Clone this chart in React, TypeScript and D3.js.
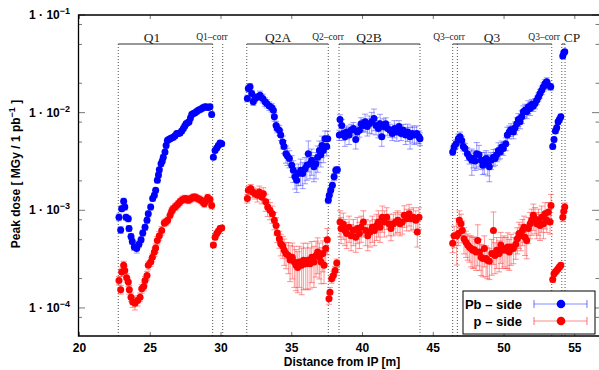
import React from 'react'
import * as d3 from 'd3'

type Pt = [number, number, number] // distance [m], dose, relative error

// Pb-side (blue)
const pbQ1: Pt[] = [
  [22.79, 8.5e-4, 0.08], [22.91, 6.3e-4, 0.08], [22.98, 1.04e-3, 0.07], [23.12, 1.24e-3, 0.07], [23.2, 1.08e-3, 0.07],
  [23.29, 8.5e-4, 0.07], [23.45, 8.2e-4, 0.07], [23.5, 6.5e-4, 0.07], [23.64, 5.4e-4, 0.07], [23.73, 4.8e-4, 0.07],
  [23.87, 4.2e-4, 0.08], [24.04, 4.05e-4, 0.1], [24.2, 4.5e-4, 0.08], [24.35, 5.0e-4, 0.07], [24.47, 5.85e-4, 0.07],
  [24.63, 6.7e-4, 0.07], [24.77, 7.9e-4, 0.07], [24.86, 9.2e-4, 0.07], [25.03, 1.08e-3, 0.07], [25.17, 1.32e-3, 0.06],
  [25.29, 1.43e-3, 0.06], [25.38, 1.6e-3, 0.06], [25.5, 2.03e-3, 0.06], [25.58, 2.3e-3, 0.06], [25.64, 2.6e-3, 0.06],
  [25.76, 3.0e-3, 0.06], [25.85, 3.2e-3, 0.06], [25.92, 3.5e-3, 0.06], [26.04, 3.96e-3, 0.06], [26.12, 4.6e-3, 0.06],
  [26.21, 5.2e-3, 0.06], [26.3, 5.3e-3, 0.06], [26.4, 5.4e-3, 0.06], [26.5, 5.5e-3, 0.06], [26.63, 5.6e-3, 0.06],
  [26.75, 5.8e-3, 0.06], [26.87, 6.1e-3, 0.06], [26.98, 6.1e-3, 0.06], [27.1, 6.2e-3, 0.06], [27.22, 6.5e-3, 0.06],
  [27.34, 6.9e-3, 0.06], [27.44, 7.3e-3, 0.06], [27.53, 7.7e-3, 0.06], [27.64, 7.9e-3, 0.06], [27.74, 8.05e-3, 0.06],
  [27.84, 8.8e-3, 0.06], [27.93, 9.6e-3, 0.06], [28.05, 9.8e-3, 0.06], [28.16, 9.95e-3, 0.06], [28.28, 1.03e-2, 0.06],
  [28.4, 1.06e-2, 0.06], [28.52, 1.08e-2, 0.06], [28.64, 1.1e-2, 0.06], [28.75, 1.13e-2, 0.06], [28.87, 1.15e-2, 0.06],
  [28.98, 1.14e-2, 0.06], [29.1, 1.13e-2, 0.06], [29.22, 1.15e-2, 0.06], [29.34, 9.6e-3, 0.06],
]
const pbQ1corr: Pt[] = [
  [29.46, 3.5e-3, 0.05], [29.58, 4.1e-3, 0.05], [29.7, 4.35e-3, 0.05], [29.81, 4.6e-3, 0.05], [29.93, 4.9e-3, 0.05], [30.05, 4.8e-3, 0.05],
]
const pbQ2A: Pt[] = [
  [31.86, 1.4e-2, 0.08], [31.93, 1.77e-2, 0.08], [32.05, 1.84e-2, 0.08], [32.17, 1.57e-2, 0.08], [32.28, 1.29e-2, 0.08],
  [32.4, 1.4e-2, 0.08], [32.57, 1.45e-2, 0.08], [32.76, 1.51e-2, 0.1], [32.95, 1.4e-2, 0.1], [33.11, 1.29e-2, 0.1],
  [33.23, 1.24e-2, 0.1], [33.41, 1.17e-2, 0.1], [33.58, 1.13e-2, 0.1], [33.7, 1.06e-2, 0.1], [33.77, 9.1e-3, 0.1],
  [33.89, 7.4e-3, 0.1], [33.98, 6.9e-3, 0.1], [34.12, 6.6e-3, 0.12], [34.22, 5.9e-3, 0.12], [34.36, 5.0e-3, 0.15],
  [34.45, 4.5e-3, 0.15], [34.59, 3.8e-3, 0.2], [34.69, 3.6e-3, 0.2], [34.83, 3.4e-3, 0.2], [35.0, 2.9e-3, 0.25],
  [35.11, 2.57e-3, 0.25], [35.23, 2.2e-3, 0.25], [35.35, 2.03e-3, 0.25], [35.46, 2.38e-3, 0.25], [35.63, 2.57e-3, 0.3],
  [35.77, 2.38e-3, 0.3], [35.94, 2.67e-3, 0.3], [36.06, 2.9e-3, 0.3], [36.17, 3.8e-3, 0.35], [36.29, 3.0e-3, 0.3],
  [36.41, 3.26e-3, 0.3], [36.57, 2.8e-3, 0.3], [36.71, 3.0e-3, 0.3], [36.83, 3.5e-3, 0.3], [36.95, 4.1e-3, 0.25],
  [37.05, 3.7e-3, 0.25], [37.14, 4.6e-3, 0.25], [37.23, 4.1e-3, 0.25], [37.35, 5.4e-3, 0.2], [37.47, 4.5e-3, 0.2],
  [37.54, 5.4e-3, 0.2],
]
const pbQ2corr: Pt[] = [
  [37.58, 1.27e-3, 0.08], [37.65, 1.43e-3, 0.08], [37.75, 1.6e-3, 0.08], [37.87, 1.8e-3, 0.08], [37.99, 2.2e-3, 0.08],
  [38.11, 2.57e-3, 0.08], [38.22, 2.6e-3, 0.08],
]
const pbQ2B: Pt[] = [
  [38.36, 5.9e-3, 0.12], [38.41, 8.5e-3, 0.12], [38.53, 7.4e-3, 0.15], [38.64, 6.1e-3, 0.15], [38.76, 5.65e-3, 0.2],
  [38.88, 6.35e-3, 0.15], [39.05, 5.9e-3, 0.2], [39.19, 6.6e-3, 0.15], [39.35, 6.9e-3, 0.15], [39.52, 5.3e-3, 0.2],
  [39.63, 6.35e-3, 0.15], [39.78, 6.6e-3, 0.15], [39.9, 7.7e-3, 0.15], [40.06, 7.4e-3, 0.15], [40.18, 8.05e-3, 0.2],
  [40.34, 7.2e-3, 0.2], [40.48, 7.7e-3, 0.2], [40.65, 8.05e-3, 0.25], [40.81, 8.7e-3, 0.25], [40.95, 7.4e-3, 0.2],
  [41.12, 6.9e-3, 0.2], [41.24, 7.7e-3, 0.25], [41.36, 5.65e-3, 0.2], [41.47, 7.2e-3, 0.2], [41.64, 7.7e-3, 0.15],
  [41.78, 6.9e-3, 0.15], [41.94, 6.6e-3, 0.15], [42.11, 6.1e-3, 0.15], [42.25, 6.9e-3, 0.2], [42.42, 6.35e-3, 0.2],
  [42.58, 7.2e-3, 0.15], [42.72, 6.1e-3, 0.15], [42.88, 6.6e-3, 0.15], [43.05, 5.9e-3, 0.2], [43.19, 6.35e-3, 0.2],
  [43.36, 5.65e-3, 0.25], [43.52, 6.1e-3, 0.2], [43.66, 5.9e-3, 0.2], [43.83, 6.1e-3, 0.2], [43.99, 5.65e-3, 0.15],
  [44.06, 5.4e-3, 0.15],
]
const pbQ3: Pt[] = [
  [46.37, 3.96e-3, 0.08], [46.47, 4.45e-3, 0.08], [46.61, 4.8e-3, 0.1], [46.77, 5.4e-3, 0.12], [46.89, 5.65e-3, 0.12],
  [47.01, 5.2e-3, 0.1], [47.12, 4.5e-3, 0.1], [47.24, 4.3e-3, 0.12], [47.41, 3.8e-3, 0.15], [47.55, 3.5e-3, 0.15],
  [47.72, 3.26e-3, 0.3], [47.83, 3.4e-3, 0.2], [47.95, 3.2e-3, 0.2], [48.07, 3.8e-3, 0.3], [48.23, 3.7e-3, 0.25],
  [48.38, 3.26e-3, 0.2], [48.5, 2.9e-3, 0.2], [48.61, 3.13e-3, 0.25], [48.73, 3.4e-3, 0.2], [48.85, 3.0e-3, 0.25],
  [48.96, 2.8e-3, 0.3], [49.08, 3.26e-3, 0.2], [49.25, 3.5e-3, 0.2], [49.36, 3.4e-3, 0.15], [49.48, 3.7e-3, 0.15],
  [49.6, 4.1e-3, 0.2], [49.72, 3.96e-3, 0.15], [49.84, 4.45e-3, 0.15], [49.95, 4.3e-3, 0.15], [50.12, 4.8e-3, 0.15],
  [50.23, 5.9e-3, 0.2], [50.37, 6.35e-3, 0.15], [50.49, 6.7e-3, 0.15], [50.66, 6.35e-3, 0.15], [50.78, 7.0e-3, 0.15],
  [50.9, 7.7e-3, 0.15], [51.01, 8.5e-3, 0.15], [51.13, 8.05e-3, 0.15], [51.25, 9.1e-3, 0.15], [51.36, 1.02e-2, 0.15],
  [51.48, 1.06e-2, 0.15], [51.6, 1.02e-2, 0.15], [51.72, 1.15e-2, 0.15], [51.84, 1.1e-2, 0.15], [51.96, 1.22e-2, 0.12],
  [52.07, 1.17e-2, 0.12], [52.19, 1.24e-2, 0.12], [52.31, 1.34e-2, 0.1], [52.43, 1.45e-2, 0.1], [52.54, 1.57e-2, 0.1],
  [52.66, 1.7e-2, 0.1], [52.78, 1.84e-2, 0.1], [52.9, 1.99e-2, 0.1], [53.02, 2.07e-2, 0.1], [53.13, 1.91e-2, 0.1],
  [53.3, 1.84e-2, 0.08],
]
const pbQ3corr: Pt[] = [
  [53.44, 4.5e-3, 0.06], [53.53, 5.3e-3, 0.06], [53.63, 6.5e-3, 0.06], [53.72, 7.0e-3, 0.06], [53.82, 8.05e-3, 0.06],
  [53.91, 8.5e-3, 0.06], [54.01, 9.1e-3, 0.06],
]
const pbCP: Pt[] = [[54.15, 3.8e-2, 0.05], [54.22, 4.1e-2, 0.05], [54.29, 4.2e-2, 0.05]]

// p-side (red)
const pQ1: Pt[] = [
  [22.79, 1.91e-4, 0.1], [22.91, 1.54e-4, 0.1], [22.98, 2.33e-4, 0.1], [23.12, 2.73e-4, 0.1], [23.2, 2.42e-4, 0.1],
  [23.33, 2.04e-4, 0.1], [23.45, 1.84e-4, 0.1], [23.52, 1.54e-4, 0.1], [23.64, 1.29e-4, 0.1], [23.76, 1.15e-4, 0.12],
  [23.92, 1.12e-4, 0.15], [24.11, 1.19e-4, 0.12], [24.28, 1.29e-4, 0.1], [24.4, 1.57e-4, 0.1], [24.54, 1.66e-4, 0.1],
  [24.63, 1.91e-4, 0.1], [24.77, 2.15e-4, 0.1], [24.86, 2.73e-4, 0.1], [25.03, 2.95e-4, 0.1], [25.15, 3.3e-4, 0.1],
  [25.29, 3.73e-4, 0.1], [25.38, 4.1e-4, 0.1], [25.5, 4.9e-4, 0.1], [25.64, 5.5e-4, 0.1], [25.81, 6.2e-4, 0.1],
  [25.99, 7.4e-4, 0.08], [26.1, 7.6e-4, 0.08], [26.23, 7.9e-4, 0.08], [26.4, 8.9e-4, 0.08], [26.51, 9.8e-4, 0.08],
  [26.6, 1.03e-3, 0.08], [26.75, 1.08e-3, 0.08], [26.86, 1.12e-3, 0.08], [26.98, 1.17e-3, 0.08], [27.1, 1.22e-3, 0.08],
  [27.22, 1.27e-3, 0.08], [27.34, 1.3e-3, 0.08], [27.46, 1.32e-3, 0.08], [27.58, 1.3e-3, 0.08], [27.69, 1.27e-3, 0.08],
  [27.78, 1.3e-3, 0.08], [27.88, 1.32e-3, 0.08], [28.0, 1.35e-3, 0.08], [28.11, 1.37e-3, 0.08], [28.23, 1.35e-3, 0.08],
  [28.35, 1.32e-3, 0.08], [28.47, 1.3e-3, 0.08], [28.59, 1.27e-3, 0.08], [28.7, 1.22e-3, 0.08], [28.82, 1.17e-3, 0.08],
  [28.94, 1.25e-3, 0.08], [29.06, 1.35e-3, 0.08], [29.22, 1.29e-3, 0.08], [29.34, 1.12e-3, 0.08],
]
const pQ1corr: Pt[] = [
  [29.46, 4.4e-4, 0.06], [29.58, 5.3e-4, 0.06], [29.7, 5.8e-4, 0.06], [29.81, 6.1e-4, 0.06], [29.93, 6.5e-4, 0.06], [30.05, 6.6e-4, 0.06],
]
const pQ2A: Pt[] = [
  [31.86, 1.32e-3, 0.1], [31.93, 1.6e-3, 0.1], [32.1, 1.67e-3, 0.1], [32.24, 1.54e-3, 0.12], [32.4, 1.48e-3, 0.12],
  [32.57, 1.43e-3, 0.15], [32.71, 1.54e-3, 0.15], [32.88, 1.37e-3, 0.15], [32.99, 1.48e-3, 0.15], [33.16, 1.22e-3, 0.2],
  [33.3, 1.08e-3, 0.2], [33.46, 1.0e-3, 0.2], [33.63, 9.2e-4, 0.2], [33.77, 7.9e-4, 0.2], [33.89, 7.0e-4, 0.2],
  [33.98, 5.85e-4, 0.2], [34.12, 5.1e-4, 0.2], [34.22, 4.55e-4, 0.25], [34.36, 4.3e-4, 0.25], [34.47, 3.9e-4, 0.3],
  [34.59, 3.6e-4, 0.3], [34.76, 3.45e-4, 0.35], [34.88, 3.1e-4, 0.4], [35.04, 3.3e-4, 0.4], [35.18, 2.95e-4, 0.45],
  [35.3, 2.73e-4, 0.45], [35.42, 2.6e-4, 0.45], [35.53, 2.95e-4, 0.45], [35.7, 2.73e-4, 0.5], [35.82, 3.07e-4, 0.5],
  [35.99, 2.84e-4, 0.45], [36.13, 3.07e-4, 0.5], [36.29, 2.84e-4, 0.45], [36.41, 3.3e-4, 0.45], [36.57, 2.95e-4, 0.45],
  [36.71, 3.45e-4, 0.4], [36.83, 3.73e-4, 0.4], [36.95, 3.3e-4, 0.4], [37.07, 2.95e-4, 0.4], [37.19, 3.6e-4, 0.35],
  [37.28, 2.73e-4, 0.35], [37.4, 4.05e-4, 0.3], [37.51, 5.0e-4, 0.3],
]
const pQ2corr: Pt[] = [
  [37.63, 1.24e-4, 0.12], [37.7, 1.45e-4, 0.12], [37.82, 1.99e-4, 0.1], [37.94, 2.15e-4, 0.1], [38.06, 2.42e-4, 0.1], [38.18, 2.88e-4, 0.1],
]
const pQ2B: Pt[] = [
  [38.41, 7.6e-4, 0.3], [38.48, 6.5e-4, 0.3], [38.64, 7.2e-4, 0.3], [38.76, 6.2e-4, 0.3], [38.88, 5.8e-4, 0.3],
  [39.05, 6.7e-4, 0.3], [39.19, 5.5e-4, 0.3], [39.35, 6.2e-4, 0.3], [39.52, 5.3e-4, 0.3], [39.63, 6.5e-4, 0.3],
  [39.78, 5.8e-4, 0.3], [39.9, 6.7e-4, 0.3], [40.06, 7.6e-4, 0.3], [40.23, 6.2e-4, 0.3], [40.37, 5.5e-4, 0.3],
  [40.53, 6.0e-4, 0.3], [40.69, 6.7e-4, 0.3], [40.84, 6.2e-4, 0.3], [41.0, 7.0e-4, 0.3], [41.12, 7.6e-4, 0.3],
  [41.24, 6.7e-4, 0.3], [41.4, 8.5e-4, 0.3], [41.54, 7.6e-4, 0.3], [41.71, 8.5e-4, 0.25], [41.87, 7.3e-4, 0.25],
  [42.01, 6.5e-4, 0.25], [42.18, 7.3e-4, 0.25], [42.35, 7.6e-4, 0.25], [42.49, 7.9e-4, 0.25], [42.65, 7.3e-4, 0.25],
  [42.81, 7.6e-4, 0.25], [42.95, 8.9e-4, 0.25], [43.12, 8.2e-4, 0.25], [43.29, 9.2e-4, 0.25], [43.43, 8.2e-4, 0.25],
  [43.59, 8.5e-4, 0.25], [43.76, 7.9e-4, 0.25], [43.87, 6.0e-4, 0.3], [43.99, 8.5e-4, 0.25],
]
const pQ3: Pt[] = [
  [46.37, 4.6e-4, 0.2], [46.47, 5.5e-4, 0.25], [46.66, 5.5e-4, 0.5], [46.77, 5.8e-4, 0.25], [46.84, 7.9e-4, 0.25],
  [46.96, 7.3e-4, 0.25], [47.05, 6.2e-4, 0.25], [47.17, 5.1e-4, 0.3], [47.31, 4.7e-4, 0.3], [47.43, 4.4e-4, 0.3],
  [47.55, 4.2e-4, 0.3], [47.67, 4.05e-4, 0.35], [47.79, 3.9e-4, 0.35], [47.9, 3.95e-4, 0.35], [48.02, 3.73e-4, 0.35],
  [48.14, 4.9e-4, 0.45], [48.26, 3.73e-4, 0.35], [48.38, 3.3e-4, 0.35], [48.5, 3.2e-4, 0.35], [48.61, 4.05e-4, 0.35],
  [48.73, 3.2e-4, 0.35], [48.82, 3.07e-4, 0.35], [48.96, 3.0e-4, 0.35], [49.13, 3.6e-4, 0.4], [49.25, 6.2e-4, 0.55],
  [49.36, 3.45e-4, 0.35], [49.48, 3.9e-4, 0.35], [49.65, 3.6e-4, 0.35], [49.77, 4.4e-4, 0.35], [49.88, 3.9e-4, 0.35],
  [50.0, 4.05e-4, 0.35], [50.14, 3.9e-4, 0.35], [50.26, 4.2e-4, 0.4], [50.37, 3.73e-4, 0.35], [50.49, 4.2e-4, 0.35],
  [50.66, 4.05e-4, 0.3], [50.83, 4.5e-4, 0.3], [50.94, 5.1e-4, 0.3], [51.06, 5.8e-4, 0.3], [51.18, 5.5e-4, 0.3],
  [51.3, 6.2e-4, 0.3], [51.41, 6.7e-4, 0.3], [51.48, 5.3e-4, 0.35], [51.6, 4.9e-4, 0.35], [51.72, 6.5e-4, 0.3],
  [51.84, 7.3e-4, 0.3], [51.96, 7.9e-4, 0.3], [52.07, 8.9e-4, 0.3], [52.19, 8.2e-4, 0.3], [52.31, 7.3e-4, 0.3],
  [52.43, 7.9e-4, 0.3], [52.54, 7.0e-4, 0.3], [52.66, 8.5e-4, 0.3], [52.78, 7.3e-4, 0.3], [52.9, 9.2e-4, 0.3],
  [53.02, 7.9e-4, 0.25], [53.13, 9.6e-4, 0.25], [53.25, 7.6e-4, 0.25], [53.32, 1.12e-3, 0.3],
]
const pQ3corr: Pt[] = [
  [53.44, 1.95e-4, 0.06], [53.53, 2.24e-4, 0.06], [53.63, 2.33e-4, 0.06], [53.72, 2.42e-4, 0.06], [53.82, 2.52e-4, 0.06],
  [53.91, 2.62e-4, 0.06], [54.01, 2.73e-4, 0.06],
]
const pCP: Pt[] = [[54.15, 8.5e-4, 0.1], [54.22, 9.8e-4, 0.1], [54.29, 1.08e-3, 0.1]]

const pbSide = [...pbQ1, ...pbQ1corr, ...pbQ2A, ...pbQ2corr, ...pbQ2B, ...pbQ3, ...pbQ3corr, ...pbCP]
const pSide = [...pQ1, ...pQ1corr, ...pQ2A, ...pQ2corr, ...pQ2B, ...pQ3, ...pQ3corr, ...pCP]

// magnet boundaries (dotted) and brackets
const boundaries = [22.74, 29.41, 30.12, 31.82, 37.58, 38.34, 44.06, 46.37, 46.7, 53.37, 54.08, 54.31]
const brackets: [number, number][] = [[22.74, 29.41], [31.82, 37.58], [38.34, 44.06], [46.37, 53.37], [54.08, 54.31]]
const sectionLabels: { text: string; at: number; big: boolean }[] = [
  { text: 'Q1', at: 25.12, big: true },
  { text: 'Q1\u2013corr', at: 29.36, big: false },
  { text: 'Q2A', at: 34.03, big: true },
  { text: 'Q2\u2013corr', at: 37.56, big: false },
  { text: 'Q2B', at: 40.46, big: true },
  { text: 'Q3\u2013corr', at: 46.11, big: false },
  { text: 'Q3', at: 49.15, big: true },
  { text: 'Q3\u2013corr', at: 52.83, big: false },
  { text: 'CP', at: 54.81, big: true },
]

const xTicks = [20, 25, 30, 35, 40, 45, 50, 55]
const yMajor = [1e-4, 1e-3, 1e-2, 1e-1]
const yMinor = [8e-5, 2e-4, 5e-4, 8e-4, 2e-3, 5e-3, 8e-3, 2e-2, 5e-2, 8e-2]

const W = 599
const H = 370
const top = 15
const bottom = 336

const x = d3.scaleLinear().domain([20, 56.78]).range([79.5, 600])
const y = d3.scaleLog().domain([5.16e-5, 0.1]).range([bottom, top])

const sans = '"Liberation Sans", Arial, sans-serif'
const serif = '"Liberation Serif", "Times New Roman", serif'

const Series = ({ pts, dot, bar }: { pts: Pt[]; dot: string; bar: string }) => (
  <g>
    {pts.map(([d, v, e], i) => {
      const cx = x(d)
      const y1 = y(v * (1 + e))
      const y0 = y(Math.max(v * (1 - e), 5.2e-5))
      return (
        <g key={'e' + i} stroke={bar} strokeWidth={1}>
          <line x1={cx} x2={cx} y1={y0} y2={y1} />
          <line x1={cx - 3} x2={cx + 3} y1={y0} y2={y0} />
          <line x1={cx - 3} x2={cx + 3} y1={y1} y2={y1} />
        </g>
      )
    })}
    {pts.map(([d, v], i) => (
      <circle key={'c' + i} cx={x(d)} cy={y(v)} r={3.5} fill={dot} />
    ))}
  </g>
)

const LegendRow = ({ label, yy, dot, bar }: { label: string; yy: number; dot: string; bar: string }) => (
  <g>
    <text x={522} y={yy + 5} textAnchor="end" fontFamily={sans} fontWeight="bold" fontSize={13}>{label}</text>
    <g stroke={bar} strokeWidth={1.2}>
      <line x1={534} x2={587} y1={yy} y2={yy} />
      <line x1={534} x2={534} y1={yy - 4} y2={yy + 4} />
      <line x1={587} x2={587} y1={yy - 4} y2={yy + 4} />
    </g>
    <circle cx={561} cy={yy} r={4.3} fill={dot} />
  </g>
)

export default function App() {
  const expo = (v: number) => Math.round(Math.log10(v))
  return (
    <svg width={W} height={H} style={{ position: 'absolute', left: 0, top: 0, background: '#fff' }}>
      <rect width={W} height={H} fill="#fff" />

      {/* dotted magnet boundaries */}
      {boundaries.map((b, i) => (
        <line key={'b' + i} x1={x(b)} x2={x(b)} y1={44} y2={bottom} stroke="#555" strokeWidth={1} strokeDasharray="1 2" />
      ))}
      {brackets.map(([a, b], i) => (
        <line key={'k' + i} x1={x(a)} x2={x(b)} y1={44} y2={44} stroke="#333" strokeWidth={1} />
      ))}
      {sectionLabels.map((s, i) => (
        <text key={'s' + i} x={x(s.at)} y={s.big ? 42 : 40} textAnchor="middle" fontFamily={serif}
          fontSize={s.big ? 13.5 : 9.5} fill="#222">{s.text}</text>
      ))}

      <Series pts={pSide} dot="#ff0000" bar="rgba(255,60,60,0.55)" />
      <Series pts={pbSide} dot="#0000ff" bar="rgba(60,60,255,0.5)" />

      {/* ticks */}
      {xTicks.map(t => (
        <g key={'xt' + t} stroke="#777" strokeWidth={1}>
          <line x1={x(t)} x2={x(t)} y1={bottom} y2={bottom - 4} />
          <line x1={x(t)} x2={x(t)} y1={top} y2={top + 4} />
        </g>
      ))}
      {yMajor.map(t => (
        <g key={'ym' + t} stroke="#777" strokeWidth={1}>
          <line x1={78.5} x2={85} y1={y(t)} y2={y(t)} />
          <line x1={599} x2={592} y1={y(t)} y2={y(t)} />
        </g>
      ))}
      {yMinor.map(t => (
        <g key={'yn' + t} stroke="#777" strokeWidth={1}>
          <line x1={78.5} x2={82} y1={y(t)} y2={y(t)} />
          <line x1={599} x2={595.5} y1={y(t)} y2={y(t)} />
        </g>
      ))}

      {/* frame */}
      <path d={`M600,${top}H78.5V${bottom}H600`} fill="none" stroke="#000" strokeWidth={1.3} />

      {/* tick labels */}
      {xTicks.map(t => (
        <text key={'xl' + t} x={x(t)} y={352} textAnchor="middle" fontFamily={sans} fontWeight="bold" fontSize={12}>{t}</text>
      ))}
      {yMajor.map(t => (
        <text key={'yl' + t} x={70} y={y(t) + 4} textAnchor="end" fontFamily={sans} fontWeight="bold" fontSize={12}>
          1 · 10<tspan dy={-5} fontSize={9}>{'\u2212' + Math.abs(expo(t))}</tspan>
        </text>
      ))}

      {/* axis titles */}
      <text x={342} y={366} textAnchor="middle" fontFamily={sans} fontWeight="bold" fontSize={12}>Distance from IP [m]</text>
      <text transform="translate(20,174) rotate(-90)" textAnchor="middle" fontFamily={sans} fontWeight="bold" fontSize={12}>
        Peak dose [ MGy / 1 pb<tspan dy={-5} fontSize={9}>−1</tspan><tspan dy={5}> ]</tspan>
      </text>

      {/* legend */}
      <rect x={463} y={291} width={132} height={43} fill="#fff" stroke="#000" strokeWidth={1} />
      <LegendRow label="Pb – side" yy={304} dot="#0000ff" bar="rgba(60,60,255,0.6)" />
      <LegendRow label="p – side" yy={321} dot="#ff0000" bar="rgba(255,60,60,0.6)" />
    </svg>
  )
}
